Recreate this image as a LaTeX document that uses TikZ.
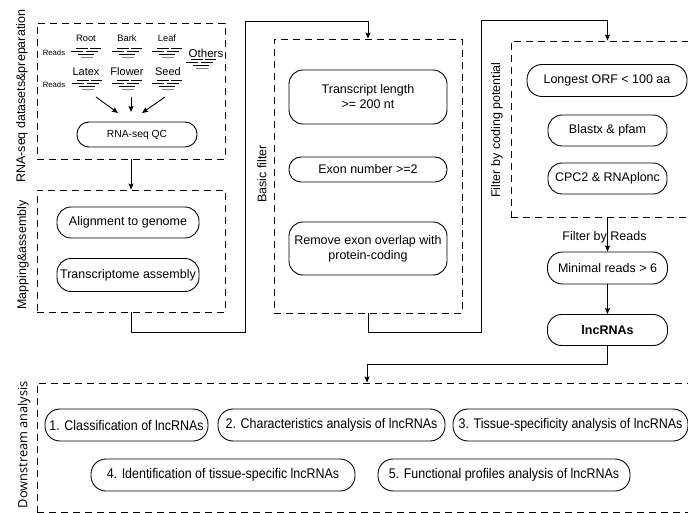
\documentclass[tikz,border=0pt]{standalone}
\usepackage{fontspec}
\setmainfont{Liberation Sans}
\newfontfamily\headfont{Open Sans}
\newfontfamily\narrowfont[FakeStretch=0.89]{Liberation Sans}
\usetikzlibrary{arrows.meta,positioning,calc}

\begin{document}
\begin{tikzpicture}[x=1pt, y=-1pt,
  grp/.style={rectangle, draw, dash pattern=on 7pt off 5pt, line width=0.9pt, inner sep=0pt},
  stepbox/.style={rectangle, draw, line width=0.9pt, rounded corners=14pt, align=center, inner sep=0pt, font=\fontsize{12.5}{15}\selectfont},
  dsbox/.style={stepbox, minimum height=32pt, rounded corners=15pt, font=\narrowfont\fontsize{14}{16}\selectfont},
  side/.style={rotate=90, inner sep=0pt, font=\fontsize{12.5}{15}\selectfont},
  tis/.style={inner sep=0pt, font=\fontsize{9.3}{11}\selectfont},
  tisb/.style={inner sep=0pt, font=\fontsize{11}{13}\selectfont},
  rd/.style={inner sep=0pt, font=\fontsize{7.7}{9}\selectfont},
  tr/.style={-{Stealth[length=6pt, width=5pt, inset=1pt]}, line width=0.9pt},
  reads/.pic={
    \draw[line width=0.7pt] (-10,-4.5) -- (2,-4.5) (4,-4.5) -- (15,-4.5);
    \draw[line width=0.7pt] (-15,-1.5) -- (-3,-1.5) (0,-1.5) -- (12,-1.5);
    \draw[line width=0.7pt] (-8,1.5) -- (8,1.5);
    \draw[line width=0.7pt, gray] (-5,4.5) -- (7,4.5);
  }
]
  \useasboundingbox (0,0) rectangle (688,513);
  \clip (0,0) rectangle (688,513);

  \node[grp, minimum width=188pt, minimum height=136pt] (prep) at (131,91) {};
  \node[grp, minimum width=188pt, minimum height=122pt] (map) at (131,251) {};
  \node[grp, minimum width=188pt, minimum height=274pt] (basic) at (368,176) {};
  \node[grp, minimum width=193pt, minimum height=176pt] (coding) at (607.5,129) {};
  \node[grp, minimum width=660pt, minimum height=129pt] (down) at (367,447.5) {};

  \node[side, anchor=west] (lprep) at (22,183) {RNA-seq datasets\&preparation};
  \node[side] (lmap) at (23,255) {Mapping\&assembly};
  \node[side] (lbasic) at (262,174) {Basic filter};
  \node[side] (lcoding) at (497,130) {Filter by coding potential};
  \node[side, anchor=east, font=\headfont\fontsize{12.8}{15}\selectfont] (ldown) at (24,381) {Downstream analysis};

  \node[rd] (reads1) at (54,53) {Reads};
  \node[rd] (reads2) at (54,85) {Reads};
  \node[tis] (root) at (86,38) {Root};
  \node[tis] (bark) at (127,38) {Bark};
  \node[tis] (leaf) at (167,38) {Leaf};
  \node[tisb, font=\fontsize{11.5}{13}\selectfont] (others) at (206,53) {Others};
  \node[tisb] (latex) at (86,72) {Latex};
  \node[tisb] (flower) at (127,72) {Flower};
  \node[tisb] (seed) at (168,72) {Seed};
  \pic at (86,53) {reads};
  \pic at (127,53) {reads};
  \pic at (167,53) {reads};
  \pic at (201,64) {reads};
  \pic at (87,85) {reads};
  \pic at (127,85) {reads};
  \pic at (167,85) {reads};

  \node[stepbox, minimum width=120pt, minimum height=25pt, rounded corners=12pt, font=\fontsize{10.3}{12}\selectfont] (qc) at (137,134.5) {RNA-seq QC};
  \coordinate (s1) at (96,97);
  \coordinate (s2) at (131,97);
  \coordinate (s3) at (165,97);
  \coordinate (e1) at (118,113);
  \coordinate (e2) at (131,112);
  \coordinate (e3) at (142,113);
  \draw[tr] (s1) -- (e1);
  \draw[tr] (s2) -- (e2);
  \draw[tr] (s3) -- (e3);

  \node[stepbox, minimum width=142pt, minimum height=31pt] (align) at (128,222.5) {Alignment to genome};
  \node[stepbox, minimum width=142pt, minimum height=33pt] (assem) at (128,275) {Transcriptome assembly};

  \node[stepbox, minimum width=158pt, minimum height=54pt] (tlen) at (368,97) {Transcript length\\>= 200 nt};
  \node[stepbox, minimum width=158pt, minimum height=25pt, rounded corners=12pt] (exon) at (368,169.5) {Exon number >=2};
  \node[stepbox, minimum width=158pt, minimum height=53pt] (rmov) at (368,248.5) {Remove exon overlap with\\protein-coding};

  \node[stepbox, minimum width=160pt, minimum height=32pt, rounded corners=15pt] (orf) at (607,80.5) {Longest ORF < 100 aa};
  \node[stepbox, minimum width=119pt, minimum height=31pt] (blast) at (607.5,130.5) {Blastx \& pfam};
  \node[stepbox, minimum width=119pt, minimum height=31pt] (cpc) at (607.5,178.5) {CPC2 \& RNAplonc};

  \node[stepbox, minimum width=120pt, minimum height=32pt, rounded corners=15pt] (minr) at (607.5,268) {Minimal reads > 6};
  \node[stepbox, minimum width=120pt, minimum height=31pt, font=\fontsize{12.5}{15}\selectfont\bfseries] (lnc) at (607.5,330) {lncRNAs};

  \node[dsbox, minimum width=163pt] (d1) at (126.5,425) {1. Classification of lncRNAs};
  \node[dsbox, minimum width=227pt] (d2) at (331.5,425) {2. Characteristics analysis of lncRNAs};
  \node[dsbox, minimum width=235pt] (d3) at (570.5,425) {3. Tissue-specificity analysis of lncRNAs};
  \node[dsbox, minimum width=264pt] (d4) at (223,475) {4. Identification of tissue-specific lncRNAs};
  \node[dsbox, minimum width=252pt] (d5) at (504,475) {5. Functional profiles analysis of lncRNAs};

  \coordinate (j1) at (245,332);
  \coordinate (j2) at (245,21);
  \coordinate (j3) at (481,332);
  \coordinate (j4) at (481,20);
  \draw[tr] (prep.south) -- (map.north);
  \draw[tr] (map.south) |- (j1) -- (j2) -| (basic.north);
  \draw[tr] (basic.south) |- (j3) -- (j4) -| (coding.north);
  \draw[tr] (coding.south) -- node[pos=0.57, xshift=-3pt, inner sep=0pt, font=\fontsize{12.5}{15}\selectfont] {Filter by Reads} (minr.north);
  \draw[tr] (minr.south) -- (lnc.north);
  \draw[tr] (lnc.south) -- ++(0,18) -| (down.north);
\end{tikzpicture}
\end{document}
